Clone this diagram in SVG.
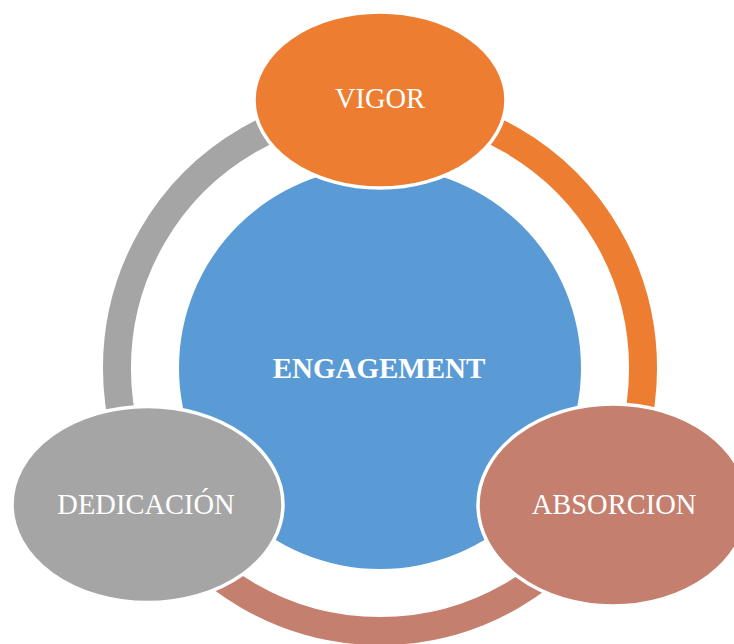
<svg xmlns="http://www.w3.org/2000/svg" width="734" height="644" viewBox="0 0 734 644">
<style>
.arc{fill:none;stroke-width:28}
.node{stroke:#fff;stroke-width:3.5}
.lbl{font-family:"Liberation Serif","Times New Roman",serif;font-size:28.5px;fill:#fff;text-anchor:middle}
.center{font-family:"Liberation Serif","Times New Roman",serif;font-size:29px;font-weight:bold;fill:#fff;text-anchor:middle}
</style>
<rect width="734" height="644" fill="#fff"/>
<g id="connectors">
<path class="arc" stroke="#ED7D31" d="M380,105 A263,263 0 0 1 607.8,499.5"/>
<path class="arc" stroke="#C47F6E" d="M607.8,499.5 A263,263 0 0 1 152.2,499.5"/>
<path class="arc" stroke="#A5A5A5" d="M152.2,499.5 A263,263 0 0 1 380,105"/>
</g>
<g id="engagement">
<circle cx="380" cy="368" r="201" fill="#5B9BD5"/>
<text class="center" x="379" y="378">ENGAGEMENT</text>
</g>
<g id="vigor">
<ellipse class="node" cx="380" cy="100" rx="126" ry="88" fill="#ED7D31"/>
<text class="lbl" x="380" y="108">VIGOR</text>
</g>
<g id="absorcion">
<ellipse class="node" cx="613" cy="505" rx="135" ry="101" fill="#C47F6E"/>
<text class="lbl" x="614" y="514">ABSORCION</text>
</g>
<g id="dedicacion">
<ellipse class="node" cx="147.5" cy="504.5" rx="135.5" ry="98" fill="#A5A5A5"/>
<text class="lbl" x="146" y="514">DEDICACIÓN</text>
</g>
</svg>
